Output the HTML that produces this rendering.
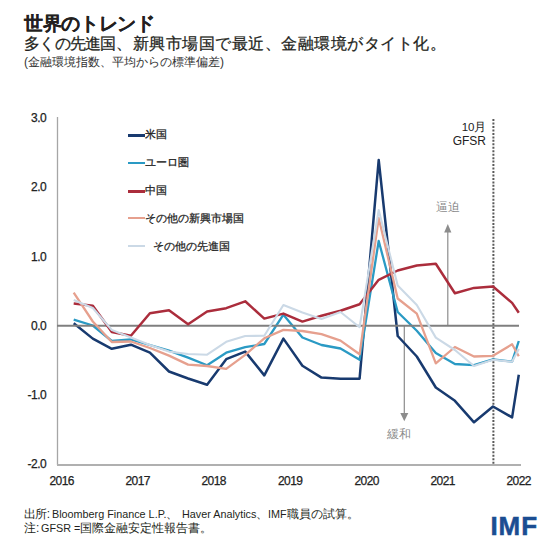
<!DOCTYPE html>
<html><head><meta charset="utf-8">
<style>
html,body{margin:0;padding:0;background:#fff;}
body{width:560px;height:553px;position:relative;overflow:hidden;font-family:"Liberation Sans",sans-serif;color:#231f20;}
.t{position:absolute;white-space:nowrap;}
#title{left:24px;top:11px;font-size:18.7px;letter-spacing:-0.35px;font-weight:bold;-webkit-text-stroke:0.12px #231f20;}
.sub{top:33px;font-size:16.4px;-webkit-text-stroke:0.25px #231f20;}
#sub2{left:24px;top:54px;font-size:12px;color:#333;}
.ft{font-size:11.9px;}
.la{font-size:10.8px;}
#imf{left:490.5px;top:510.5px;font-size:26px;letter-spacing:0.9px;font-weight:bold;color:#1b4d92;-webkit-text-stroke:0.5px #1b4d92;}
.lg{position:absolute;font-size:11px;white-space:nowrap;color:#222;-webkit-text-stroke:0.25px #222;}
.lgl{position:absolute;left:128px;width:16.5px;height:2.5px;}
svg{position:absolute;left:0;top:0;}
</style></head><body>
<div class="t" id="title">世界のトレンド</div>
<div class="t sub" style="left:24px;letter-spacing:-0.75px">多くの先進国、</div>
<div class="t sub" style="left:133px;letter-spacing:0.48px">新興市場国で最近、金融環境がタイト化。</div>
<div class="t" id="sub2">(金融環境指数、平均からの標準偏差)</div>
<div class="t ft" style="left:24px;top:507px"><span style="letter-spacing:-1.3px">出</span>所:</div>
<div class="t ft" style="left:52px;top:507px"><span class="la">Bloomberg Finance L.P.</span>、</div>
<div class="t ft" style="left:182px;top:507px"><span class="la">Haver Analytics</span>、</div>
<div class="t ft" style="left:268px;top:507px"><span class="la">IMF</span>職員の試算。</div>
<div class="t ft" style="left:24px;top:520.5px">注:</div>
<div class="t ft" style="left:41px;top:520.5px"><span class="la">GFSR =</span>国際金融安定性報告書。</div>
<div class="t" id="imf">IMF</div>
<svg width="560" height="553" viewBox="0 0 560 553">
<g font-family="Liberation Sans" font-size="12" letter-spacing="-0.5" fill="#222" stroke="#222" stroke-width="0.25" text-anchor="end">
<text x="46.3" y="121.6">3.0</text>
<text x="46.3" y="190.6">2.0</text>
<text x="46.3" y="260.6">1.0</text>
<text x="46.3" y="329.8">0.0</text>
<text x="46.3" y="399.2">-1.0</text>
<text x="46.3" y="468.3">-2.0</text>
</g>
<g font-family="Liberation Sans" font-size="12" letter-spacing="-0.6" fill="#222" stroke="#222" stroke-width="0.25" text-anchor="middle">
<text x="61.7" y="485">2016</text>
<text x="137.7" y="485">2017</text>
<text x="213.7" y="485">2018</text>
<text x="290.2" y="485">2019</text>
<text x="366.7" y="485">2020</text>
<text x="442.7" y="485">2021</text>
<text x="518.7" y="485">2022</text>
</g>
<line x1="57.5" y1="117" x2="57.5" y2="465" stroke="#a6a6a6" stroke-width="1.3"/>
<line x1="57" y1="464.9" x2="521" y2="464.9" stroke="#b0b0b0" stroke-width="2"/>
<line x1="493.4" y1="119.1" x2="493.4" y2="464" stroke="#5a5a5a" stroke-width="2" stroke-dasharray="2 1.46"/>
<line x1="447.8" y1="232" x2="447.8" y2="325" stroke="#8c8c8c" stroke-width="1.2"/>
<path d="M444.2 232.5 L447.8 224 L451.4 232.5 Z" fill="#8c8c8c"/>
<line x1="404.3" y1="326" x2="404.3" y2="414" stroke="#8c8c8c" stroke-width="1.2"/>
<path d="M400.3 413 L404.3 421.2 L408.3 413 Z" fill="#8c8c8c"/>
<path d="M73.7 323.2 L92.8 338.6 L111.8 348.8 L130.9 344.7 L149.9 352.6 L169.0 371.5 L188.1 378.5 L207.1 384.8 L226.2 359.2 L245.2 351.6 L264.3 375.4 L283.4 338.6 L302.4 365.7 L321.5 377.6 L340.5 378.7 L359.6 378.7 L378.7 160.0 L397.7 336.0 L416.8 356.5 L435.8 387.5 L454.9 400.8 L474.0 422.3 L493.0 406.5 L512.1 417.4 L518.8 374.7" fill="none" stroke="#183a6f" stroke-width="2.5" stroke-linejoin="round" stroke-linecap="butt"/>
<path d="M73.7 319.6 L92.8 325.5 L111.8 341.0 L130.9 339.5 L149.9 345.0 L169.0 350.6 L188.1 357.6 L207.1 365.2 L226.2 352.7 L245.2 347.2 L264.3 344.0 L283.4 314.7 L302.4 337.5 L321.5 345.0 L340.5 348.5 L359.6 359.8 L378.7 241.0 L397.7 312.0 L416.8 330.8 L435.8 353.1 L454.9 364.0 L474.0 365.2 L493.0 359.3 L512.1 361.6 L518.8 341.0" fill="none" stroke="#2a9ac4" stroke-width="2.3" stroke-linejoin="round" stroke-linecap="butt"/>
<line x1="57" y1="325.8" x2="519" y2="325.8" stroke="#7f7f7f" stroke-width="2"/>
<path d="M73.7 303.5 L92.8 305.7 L111.8 332.0 L130.9 335.8 L149.9 313.3 L169.0 310.3 L188.1 324.2 L207.1 311.5 L226.2 308.2 L245.2 301.3 L264.3 318.6 L283.4 313.6 L302.4 321.6 L321.5 315.8 L340.5 310.7 L359.6 304.2 L378.7 279.8 L397.7 270.5 L416.8 265.5 L435.8 263.7 L454.9 293.3 L474.0 287.9 L493.0 286.5 L512.1 302.9 L518.8 312.8" fill="none" stroke="#ab2d3c" stroke-width="2.5" stroke-linejoin="round" stroke-linecap="butt"/>
<path d="M73.7 292.7 L92.8 321.5 L111.8 342.0 L130.9 341.5 L149.9 348.0 L169.0 355.6 L188.1 364.6 L207.1 366.0 L226.2 368.9 L245.2 354.8 L264.3 338.3 L283.4 329.9 L302.4 331.0 L321.5 334.2 L340.5 340.6 L359.6 354.3 L378.7 218.0 L397.7 298.5 L416.8 313.6 L435.8 363.4 L454.9 347.0 L474.0 356.5 L493.0 355.8 L512.1 344.3 L518.8 356.2" fill="none" stroke="#e6a08e" stroke-width="2.3" stroke-linejoin="round" stroke-linecap="butt"/>
<path d="M73.7 300.0 L92.8 308.0 L111.8 330.0 L130.9 337.5 L149.9 345.0 L169.0 351.6 L188.1 354.0 L207.1 354.7 L226.2 341.8 L245.2 336.0 L264.3 335.8 L283.4 305.0 L302.4 312.5 L321.5 319.0 L340.5 312.0 L359.6 327.2 L378.7 210.0 L397.7 285.6 L416.8 305.0 L435.8 337.6 L454.9 350.0 L474.0 366.0 L493.0 359.8 L512.1 361.8 L518.8 349.0" fill="none" stroke="#cbd9e6" stroke-width="2.1" stroke-linejoin="round" stroke-linecap="butt"/>
<g font-family="Liberation Sans" font-size="12" fill="#222" text-anchor="end">
<text x="486.5" y="130.5" font-size="11.5">10月</text>
<text x="486" y="145.3">GFSR</text>
</g>
<g font-family="Liberation Sans" font-size="12" fill="#8a8a8a">
<text x="436" y="210.5">逼迫</text>
<text x="387" y="438">緩和</text>
</g>
</svg>
<div class="lgl" style="top:134px;background:#183a6f"></div>
<div class="lgl" style="top:161.5px;background:#2a9ac4"></div>
<div class="lgl" style="top:190px;background:#ab2d3c"></div>
<div class="lgl" style="top:216.5px;background:#e6a08e"></div>
<div class="lgl" style="top:244.5px;background:#cbd9e6"></div>
<div class="lg" style="left:145px;top:127px">米国</div>
<div class="lg" style="left:145px;top:155px">ユーロ圏</div>
<div class="lg" style="left:145px;top:183px">中国</div>
<div class="lg" style="left:145px;top:211px">その他の新興市場国</div>
<div class="lg" style="left:153px;top:239px">その他の先進国</div>
</body></html>
